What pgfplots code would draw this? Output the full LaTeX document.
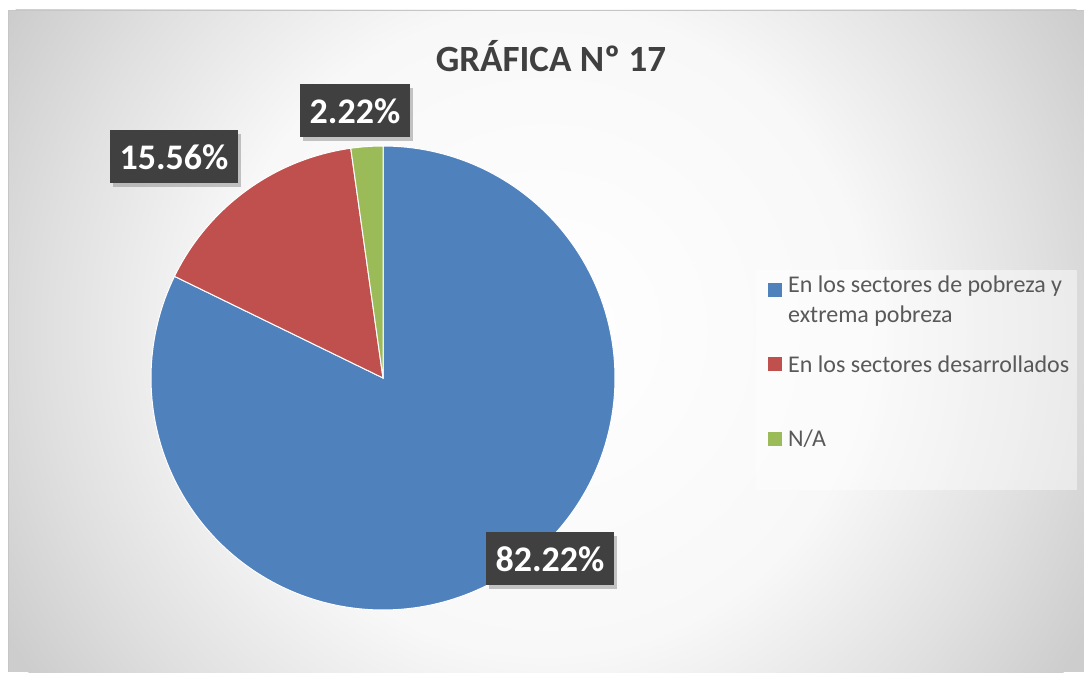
\documentclass[border=0pt]{standalone}
\usepackage{fontspec}
\setmainfont{Carlito}
\usepackage{pgfplots}
\pgfplotsset{compat=1.18}
\usetikzlibrary{shadows}
\definecolor{cBlue}{HTML}{4F81BD}
\definecolor{cRed}{HTML}{C0504D}
\definecolor{cGreen}{HTML}{9BBB59}
\definecolor{cText}{HTML}{595959}
\definecolor{cTitle}{HTML}{404040}
\definecolor{cBox}{HTML}{404040}
\definecolor{cMid}{HTML}{E0E0E0}
\definecolor{cEdge}{HTML}{CDCDCD}
\definecolor{cNear}{HTML}{F8F8F8}
\pgfdeclareradialshading{bgshade}{\pgfpoint{0bp}{0bp}}{%
  color(0bp)=(white); color(13bp)=(cNear); color(20bp)=(cMid); color(25bp)=(cEdge); color(50bp)=(cEdge)}
% values (percent)
\def\vA{82.22}
\def\vB{15.56}
\def\vC{2.22}
\pgfmathsetmacro\aStart{90}
\pgfmathsetmacro\aA{90-3.6*\vA}
\pgfmathsetmacro\aB{\aA-3.6*\vB}
\pgfmathsetmacro\aC{\aB-3.6*\vC}
\begin{document}
\begin{tikzpicture}[x=1pt,y=1pt]
\path[use as bounding box] (0,0) rectangle (1084,672);
\fill[white] (0,0) rectangle (1084,672);
\begin{scope}
\clip (8,0) rectangle (1084,662);
\fill[cEdge] (8,0) rectangle (1084,662);
\shade[shading=bgshade] (546,341) circle (620);
\end{scope}
\draw[gray!45, line width=0.8pt] (8,0) -- (8,662) -- (1084,662);
% title
\node[font=\bfseries\fontsize{37}{42}\selectfont, text=cTitle] at (551,616) {GRÁFICA Nº 17};
% pie
\begin{axis}[at={(383pt,294pt)}, anchor=center, width=464pt, height=464pt,
  scale only axis, hide axis, xmin=-1, xmax=1, ymin=-1, ymax=1, clip=false]
\addplot[fill=cBlue, draw=white, line width=1pt, domain=\aA:\aStart, samples=200]
  ({cos(x)},{sin(x)}) -- (axis cs:0,0) -- cycle;
\addplot[fill=cRed, draw=white, line width=1pt, domain=\aB:\aA, samples=60]
  ({cos(x)},{sin(x)}) -- (axis cs:0,0) -- cycle;
\addplot[fill=cGreen, draw=white, line width=1pt, domain=\aC:\aB, samples=20]
  ({cos(x)},{sin(x)}) -- (axis cs:0,0) -- cycle;
\end{axis}
% data labels
\tikzset{lbl/.style={fill=cBox, text=white, font=\bfseries\fontsize{36}{40}\selectfont,
  minimum height=53pt, inner xsep=10pt, anchor=center,
  drop shadow={opacity=0.45, shadow xshift=3pt, shadow yshift=-4pt}}}
\node[lbl] at (550,113) {82.22\%};
\node[lbl] at (174,515) {15.56\%};
\node[lbl] at (355,561) {2.22\%};
% legend
\fill[white, opacity=0.45] (756,182) rectangle (1077,402);
\tikzset{leg/.style={anchor=west, text=cText, font=\fontsize{24}{30}\selectfont, inner sep=0pt, align=left}}
\fill[cBlue] (768,375) rectangle (782,389);
\node[leg, anchor=north west] at (788,396) {En los sectores de pobreza y\\extrema pobreza};
\fill[cRed] (768,301) rectangle (782,315);
\node[leg] at (788,308) {En los sectores desarrollados};
\fill[cGreen] (768,226) rectangle (782,240);
\node[leg] at (788,233) {N/A};
\end{tikzpicture}
\end{document}
